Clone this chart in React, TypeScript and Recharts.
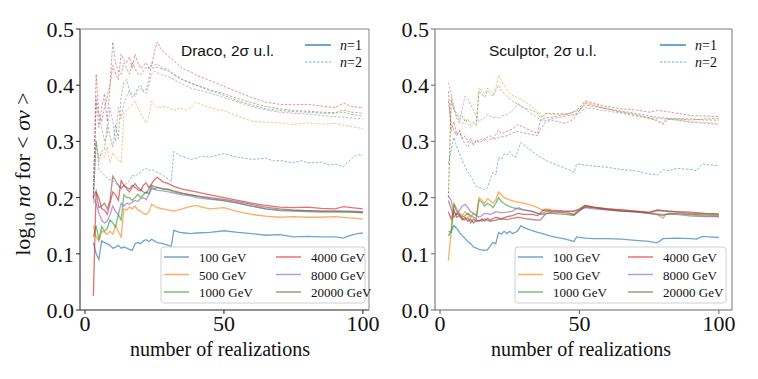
import React from 'react'
import { LineChart, Line, XAxis, YAxis } from 'recharts'

// masses, colours (matplotlib tab10)
const masses = ['100 GeV', '500 GeV', '1000 GeV', '4000 GeV', '8000 GeV', '20000 GeV']
const colors = ['#1f77b4', '#ff7f0e', '#2ca02c', '#d62728', '#9467bd', '#8c564b']
const yTicks = [0, 0.1, 0.2, 0.3, 0.4, 0.5]
const xTicks = [0, 50, 100]

type Pt = [number, number]

// ---- Draco, n = 1 ----
const draco1_100: Pt[] = [[3,0.12],[4,0.1],[5,0.09],[6,0.123],[7,0.12],[8,0.118],[9,0.115],[10,0.11],[11,0.112],[12,0.115],[13,0.11],[14,0.112],[15,0.11],[16,0.108],[17,0.106],[18,0.118],[19,0.12],[20,0.118],[21,0.123],[22,0.125],[23,0.122],[24,0.126],[26,0.12],[28,0.118],[30,0.115],[31,0.113],[32,0.142],[34,0.138],[36,0.137],[38,0.136],[40,0.137],[45,0.138],[50,0.141],[55,0.138],[60,0.136],[65,0.133],[70,0.134],[75,0.13],[80,0.131],[85,0.13],[90,0.13],[93,0.128],[95,0.132],[98,0.136],[100,0.137]]
const draco1_500: Pt[] = [[3,0.15],[4,0.13],[5,0.122],[6,0.14],[7,0.138],[8,0.135],[9,0.14],[10,0.135],[11,0.15],[12,0.14],[13,0.13],[14,0.18],[15,0.178],[16,0.183],[17,0.18],[18,0.185],[19,0.178],[20,0.176],[21,0.172],[22,0.17],[23,0.175],[24,0.188],[25,0.185],[26,0.182],[28,0.18],[30,0.178],[32,0.176],[35,0.18],[37,0.183],[40,0.186],[42,0.183],[45,0.18],[50,0.182],[55,0.175],[60,0.17],[65,0.167],[70,0.165],[75,0.166],[80,0.165],[85,0.165],[90,0.166],[95,0.164],[100,0.162]]
const draco1_1000: Pt[] = [[3,0.13],[4,0.15],[5,0.125],[6,0.148],[7,0.14],[8,0.145],[9,0.16],[10,0.155],[11,0.148],[12,0.17],[13,0.16],[14,0.205],[15,0.2],[16,0.2],[17,0.195],[18,0.2],[19,0.206],[20,0.2],[21,0.205],[22,0.21],[23,0.207],[24,0.22],[25,0.215],[26,0.218],[28,0.215],[30,0.214],[32,0.21],[35,0.207],[40,0.203],[45,0.198],[50,0.194],[55,0.19],[60,0.185],[65,0.18],[70,0.177],[75,0.176],[80,0.175],[85,0.174],[90,0.174],[95,0.174],[100,0.173]]
const draco1_4000: Pt[] = [[3,0.025],[4,0.21],[5,0.2],[6,0.18],[7,0.178],[8,0.17],[9,0.19],[10,0.21],[11,0.205],[12,0.195],[13,0.23],[14,0.222],[15,0.218],[16,0.215],[17,0.222],[18,0.218],[19,0.214],[20,0.212],[21,0.222],[22,0.226],[23,0.218],[24,0.225],[25,0.232],[26,0.236],[27,0.232],[28,0.228],[30,0.225],[32,0.22],[35,0.215],[40,0.21],[45,0.205],[50,0.2],[55,0.195],[60,0.19],[65,0.186],[70,0.183],[75,0.182],[80,0.183],[85,0.181],[90,0.18],[93,0.184],[96,0.182],[100,0.18]]
const draco1_8000: Pt[] = [[3,0.2],[4,0.19],[5,0.172],[6,0.16],[7,0.155],[8,0.158],[9,0.17],[10,0.185],[11,0.175],[12,0.17],[13,0.19],[14,0.185],[15,0.19],[16,0.188],[17,0.192],[18,0.195],[19,0.193],[20,0.198],[21,0.2],[22,0.196],[24,0.216],[26,0.213],[28,0.212],[30,0.21],[32,0.208],[35,0.205],[38,0.203],[40,0.2],[45,0.197],[50,0.195],[55,0.19],[60,0.185],[65,0.18],[70,0.178],[75,0.177],[80,0.177],[85,0.176],[90,0.176],[95,0.176],[100,0.175]]
const draco1_20000: Pt[] = [[3,0.2],[4,0.212],[5,0.182],[6,0.185],[7,0.19],[8,0.18],[9,0.195],[10,0.238],[11,0.23],[12,0.222],[13,0.216],[14,0.222],[15,0.215],[16,0.21],[17,0.218],[18,0.225],[19,0.218],[20,0.214],[21,0.21],[22,0.208],[23,0.215],[24,0.222],[25,0.22],[26,0.218],[28,0.216],[30,0.215],[32,0.212],[35,0.208],[40,0.203],[45,0.2],[50,0.197],[55,0.193],[60,0.188],[65,0.183],[70,0.18],[75,0.178],[80,0.177],[85,0.176],[90,0.176],[95,0.175],[100,0.174]]

// ---- Draco, n = 2 ----
const draco2_100: Pt[] = [[3,0.19],[4,0.3],[5,0.25],[6,0.245],[7,0.24],[8,0.235],[9,0.232],[10,0.23],[11,0.225],[12,0.22],[13,0.218],[14,0.222],[15,0.225],[16,0.23],[17,0.24],[18,0.238],[19,0.242],[20,0.245],[21,0.25],[22,0.252],[23,0.248],[24,0.25],[26,0.245],[28,0.24],[30,0.233],[31,0.228],[32,0.282],[34,0.275],[36,0.272],[38,0.268],[40,0.27],[42,0.274],[45,0.272],[48,0.276],[50,0.278],[53,0.274],[55,0.272],[60,0.268],[65,0.27],[68,0.265],[70,0.266],[75,0.262],[78,0.266],[80,0.262],[85,0.263],[88,0.258],[90,0.26],[93,0.255],[96,0.27],[98,0.276],[100,0.275]]
const draco2_500: Pt[] = [[3,0.2],[4,0.3],[5,0.262],[6,0.28],[7,0.272],[8,0.29],[9,0.262],[10,0.28],[11,0.272],[12,0.268],[13,0.262],[14,0.352],[15,0.355],[16,0.36],[17,0.365],[18,0.372],[19,0.36],[20,0.35],[21,0.34],[22,0.333],[23,0.345],[24,0.372],[25,0.365],[26,0.36],[28,0.362],[30,0.36],[32,0.355],[34,0.36],[36,0.356],[38,0.36],[40,0.37],[42,0.365],[45,0.36],[48,0.356],[50,0.355],[55,0.345],[60,0.336],[65,0.334],[70,0.333],[75,0.33],[80,0.333],[85,0.331],[90,0.332],[95,0.327],[100,0.323]]
const draco2_1000: Pt[] = [[3,0.2],[4,0.3],[5,0.27],[6,0.282],[7,0.285],[8,0.33],[9,0.31],[10,0.29],[11,0.33],[12,0.305],[13,0.38],[14,0.405],[15,0.41],[16,0.39],[17,0.378],[18,0.385],[19,0.395],[20,0.4],[21,0.39],[22,0.392],[23,0.41],[24,0.44],[25,0.436],[26,0.438],[28,0.43],[30,0.428],[32,0.42],[35,0.41],[38,0.405],[40,0.4],[45,0.39],[50,0.382],[55,0.372],[60,0.365],[65,0.358],[70,0.355],[75,0.353],[80,0.352],[85,0.35],[90,0.35],[93,0.352],[96,0.348],[100,0.345]]
const draco2_4000: Pt[] = [[3,0.2],[4,0.42],[5,0.35],[6,0.335],[7,0.36],[8,0.38],[9,0.4],[10,0.435],[11,0.42],[12,0.41],[13,0.455],[14,0.445],[15,0.44],[16,0.45],[17,0.43],[18,0.455],[19,0.44],[20,0.43],[21,0.435],[22,0.44],[23,0.43],[24,0.435],[25,0.46],[26,0.477],[27,0.468],[28,0.46],[30,0.452],[32,0.443],[35,0.43],[38,0.424],[40,0.418],[45,0.408],[50,0.398],[55,0.388],[60,0.378],[65,0.37],[70,0.366],[75,0.365],[80,0.366],[85,0.363],[90,0.36],[93,0.368],[96,0.362],[100,0.36]]
const draco2_8000: Pt[] = [[3,0.2],[4,0.38],[5,0.345],[6,0.325],[7,0.3],[8,0.312],[9,0.36],[10,0.335],[11,0.3],[12,0.36],[13,0.34],[14,0.368],[15,0.38],[16,0.39],[17,0.385],[18,0.38],[19,0.39],[20,0.395],[21,0.388],[22,0.385],[23,0.4],[24,0.42],[25,0.425],[26,0.422],[28,0.418],[30,0.415],[32,0.41],[35,0.402],[38,0.395],[40,0.392],[45,0.386],[50,0.378],[55,0.37],[60,0.362],[65,0.356],[70,0.352],[75,0.35],[80,0.349],[85,0.346],[90,0.344],[95,0.342],[100,0.34]]
const draco2_20000: Pt[] = [[3,0.2],[4,0.37],[5,0.325],[6,0.36],[7,0.385],[8,0.335],[9,0.4],[10,0.477],[11,0.44],[12,0.425],[13,0.42],[14,0.44],[15,0.43],[16,0.42],[17,0.44],[18,0.43],[19,0.42],[20,0.418],[21,0.425],[22,0.432],[24,0.43],[26,0.432],[28,0.428],[30,0.425],[32,0.418],[35,0.41],[38,0.403],[40,0.4],[45,0.392],[50,0.385],[55,0.376],[60,0.369],[65,0.362],[70,0.358],[75,0.355],[80,0.354],[85,0.352],[90,0.351],[93,0.356],[96,0.352],[100,0.35]]

// ---- Sculptor, n = 1 ----
const scl1_100: Pt[] = [[3,0.132],[4,0.14],[5,0.15],[6,0.145],[7,0.138],[8,0.132],[9,0.127],[10,0.122],[11,0.118],[12,0.112],[13,0.11],[14,0.108],[15,0.107],[16,0.106],[17,0.107],[18,0.114],[19,0.12],[20,0.118],[21,0.138],[22,0.135],[23,0.14],[24,0.136],[25,0.14],[26,0.136],[27,0.138],[28,0.142],[29,0.15],[30,0.147],[32,0.143],[35,0.138],[38,0.134],[40,0.131],[45,0.126],[48,0.122],[49,0.13],[52,0.128],[55,0.127],[60,0.127],[65,0.126],[70,0.124],[75,0.122],[77,0.12],[78,0.12],[80,0.127],[85,0.128],[90,0.127],[92,0.126],[94,0.131],[97,0.13],[100,0.129]]
const scl1_500: Pt[] = [[3,0.088],[4,0.14],[5,0.19],[6,0.18],[7,0.172],[8,0.168],[9,0.175],[10,0.17],[11,0.165],[12,0.172],[13,0.168],[14,0.2],[15,0.196],[16,0.19],[17,0.198],[18,0.195],[19,0.19],[20,0.196],[21,0.21],[22,0.205],[23,0.2],[25,0.196],[27,0.193],[30,0.19],[33,0.186],[35,0.182],[37,0.177],[38,0.18],[40,0.178],[45,0.175],[48,0.17],[50,0.178],[52,0.185],[55,0.183],[60,0.18],[65,0.178],[70,0.176],[75,0.173],[78,0.17],[80,0.163],[81,0.17],[85,0.172],[90,0.169],[95,0.167],[100,0.166]]
const scl1_1000: Pt[] = [[3,0.14],[4,0.138],[5,0.188],[6,0.175],[7,0.17],[8,0.165],[9,0.168],[10,0.172],[11,0.168],[12,0.165],[13,0.162],[14,0.196],[15,0.192],[16,0.185],[17,0.19],[18,0.187],[19,0.182],[20,0.19],[21,0.2],[22,0.193],[24,0.186],[26,0.182],[28,0.18],[30,0.178],[33,0.176],[36,0.17],[38,0.176],[40,0.175],[45,0.173],[48,0.17],[50,0.178],[52,0.186],[55,0.182],[60,0.18],[65,0.177],[70,0.175],[75,0.172],[80,0.168],[82,0.172],[85,0.171],[90,0.17],[95,0.169],[100,0.168]]
const scl1_4000: Pt[] = [[3,0.175],[4,0.162],[5,0.178],[6,0.165],[7,0.168],[8,0.16],[9,0.165],[10,0.158],[11,0.162],[12,0.155],[13,0.16],[14,0.158],[15,0.162],[16,0.158],[17,0.163],[18,0.16],[20,0.165],[22,0.162],[24,0.166],[26,0.168],[28,0.172],[30,0.17],[33,0.17],[35,0.168],[37,0.178],[40,0.177],[45,0.176],[48,0.175],[50,0.18],[52,0.186],[55,0.183],[60,0.18],[65,0.178],[70,0.176],[75,0.174],[78,0.178],[80,0.177],[85,0.175],[90,0.174],[95,0.172],[100,0.171]]
const scl1_8000: Pt[] = [[3,0.203],[4,0.195],[5,0.172],[6,0.17],[7,0.178],[8,0.185],[9,0.188],[10,0.182],[11,0.175],[12,0.172],[13,0.168],[14,0.165],[15,0.168],[16,0.172],[17,0.171],[18,0.17],[20,0.175],[22,0.173],[24,0.174],[26,0.176],[28,0.182],[30,0.178],[33,0.175],[35,0.172],[37,0.17],[40,0.174],[45,0.175],[50,0.178],[52,0.182],[55,0.18],[60,0.178],[65,0.176],[70,0.174],[75,0.172],[80,0.17],[85,0.17],[90,0.167],[95,0.166],[100,0.166]]
const scl1_20000: Pt[] = [[3,0.195],[4,0.18],[5,0.165],[6,0.172],[7,0.168],[8,0.162],[9,0.16],[10,0.165],[11,0.155],[12,0.162],[13,0.158],[14,0.16],[15,0.158],[16,0.162],[17,0.16],[18,0.158],[20,0.16],[22,0.162],[24,0.161],[26,0.163],[28,0.165],[30,0.163],[33,0.161],[36,0.16],[38,0.172],[40,0.172],[45,0.17],[48,0.168],[50,0.176],[52,0.183],[55,0.182],[60,0.178],[65,0.176],[70,0.175],[75,0.173],[78,0.177],[80,0.176],[85,0.174],[90,0.172],[95,0.171],[100,0.17]]

// ---- Sculptor, n = 2 ----
const scl2_100: Pt[] = [[3,0.26],[4,0.285],[5,0.307],[6,0.29],[7,0.278],[8,0.265],[9,0.255],[10,0.245],[11,0.238],[12,0.228],[13,0.22],[14,0.218],[15,0.216],[16,0.214],[17,0.218],[18,0.232],[19,0.245],[20,0.24],[21,0.272],[22,0.268],[23,0.278],[24,0.276],[25,0.282],[26,0.275],[27,0.272],[28,0.285],[29,0.298],[30,0.294],[32,0.286],[35,0.275],[38,0.266],[40,0.262],[45,0.252],[48,0.245],[49,0.26],[52,0.258],[55,0.256],[60,0.254],[65,0.25],[70,0.248],[75,0.242],[78,0.24],[80,0.25],[82,0.248],[85,0.252],[90,0.25],[92,0.248],[94,0.26],[97,0.258],[100,0.257]]
const scl2_500: Pt[] = [[3,0.2],[4,0.38],[5,0.36],[6,0.345],[7,0.335],[8,0.33],[9,0.34],[10,0.33],[11,0.325],[12,0.332],[13,0.328],[14,0.395],[15,0.39],[16,0.385],[17,0.395],[18,0.39],[19,0.385],[20,0.395],[21,0.418],[22,0.408],[23,0.4],[25,0.385],[27,0.38],[30,0.372],[33,0.362],[35,0.352],[37,0.342],[38,0.35],[40,0.348],[45,0.35],[48,0.345],[50,0.355],[52,0.37],[55,0.366],[60,0.358],[65,0.352],[70,0.347],[75,0.34],[78,0.338],[80,0.33],[81,0.34],[85,0.338],[90,0.335],[95,0.334],[100,0.332]]
const scl2_1000: Pt[] = [[3,0.2],[4,0.372],[5,0.355],[6,0.35],[7,0.34],[8,0.345],[9,0.335],[10,0.34],[11,0.33],[12,0.335],[13,0.33],[14,0.39],[15,0.385],[16,0.378],[17,0.39],[18,0.385],[19,0.38],[20,0.39],[21,0.4],[22,0.39],[24,0.38],[26,0.372],[28,0.366],[30,0.36],[33,0.355],[35,0.35],[36,0.342],[38,0.35],[40,0.35],[45,0.348],[50,0.356],[52,0.368],[55,0.364],[60,0.358],[65,0.352],[70,0.348],[75,0.342],[80,0.332],[82,0.34],[85,0.34],[90,0.338],[95,0.34],[100,0.341]]
const scl2_4000: Pt[] = [[3,0.39],[4,0.318],[5,0.335],[6,0.312],[7,0.32],[8,0.305],[9,0.31],[10,0.298],[11,0.306],[12,0.294],[13,0.302],[14,0.3],[15,0.305],[16,0.302],[17,0.308],[18,0.31],[19,0.305],[20,0.312],[21,0.32],[22,0.314],[24,0.318],[26,0.322],[28,0.33],[30,0.325],[33,0.318],[35,0.314],[36,0.338],[38,0.342],[40,0.343],[45,0.348],[48,0.352],[50,0.36],[52,0.372],[55,0.368],[60,0.362],[65,0.358],[70,0.356],[75,0.352],[78,0.355],[80,0.354],[85,0.35],[90,0.346],[95,0.345],[100,0.344]]
const scl2_8000: Pt[] = [[3,0.405],[4,0.385],[5,0.36],[6,0.34],[7,0.333],[8,0.36],[9,0.38],[10,0.375],[11,0.365],[12,0.355],[13,0.345],[14,0.335],[15,0.34],[16,0.342],[17,0.348],[18,0.345],[19,0.342],[20,0.345],[21,0.34],[22,0.345],[24,0.348],[26,0.355],[28,0.367],[30,0.36],[32,0.352],[35,0.342],[37,0.336],[40,0.34],[45,0.345],[50,0.35],[52,0.36],[55,0.358],[60,0.354],[65,0.35],[70,0.345],[75,0.342],[80,0.34],[85,0.338],[90,0.334],[95,0.332],[100,0.33]]
const scl2_20000: Pt[] = [[3,0.372],[4,0.33],[5,0.32],[6,0.31],[7,0.318],[8,0.305],[9,0.295],[10,0.29],[11,0.3],[12,0.295],[13,0.302],[14,0.298],[15,0.3],[16,0.305],[17,0.3],[18,0.304],[20,0.305],[22,0.308],[24,0.31],[26,0.315],[28,0.318],[30,0.315],[33,0.312],[35,0.31],[36,0.322],[38,0.335],[40,0.338],[45,0.332],[48,0.34],[50,0.355],[52,0.365],[55,0.362],[60,0.358],[65,0.354],[70,0.35],[75,0.345],[80,0.342],[85,0.34],[90,0.34],[95,0.338],[100,0.338]]

const dracoN1 = [draco1_100, draco1_500, draco1_1000, draco1_4000, draco1_8000, draco1_20000]
const dracoN2 = [draco2_100, draco2_500, draco2_1000, draco2_4000, draco2_8000, draco2_20000]
const sclN1 = [scl1_100, scl1_500, scl1_1000, scl1_4000, scl1_8000, scl1_20000]
const sclN2 = [scl2_100, scl2_500, scl2_1000, scl2_4000, scl2_8000, scl2_20000]

const serif = '"Liberation Serif", "Times New Roman", serif'
const sans = '"Liberation Sans", Arial, sans-serif'

const toRows = (pts: Pt[]) => pts.map(([x, y]) => ({ x, y }))

// tick renderers so the serif font is applied for sure
const XTick = (p: any) => (
  <text x={p.x} y={p.y} dy="0.71em" textAnchor="middle" fontFamily={serif} fontSize={22} fill="#111">
    {p.payload.value}
  </text>
)
const YTick = (p: any) => (
  <text x={p.x} y={p.y} dy="0.36em" textAnchor="end" fontFamily={serif} fontSize={22} fill="#111">
    {Number(p.payload.value).toFixed(1)}
  </text>
)

function Panel({ n1, n2, width, margin, xDomain, axisColor }: any) {
  return (
    <LineChart width={width} height={379} margin={margin}>
      <XAxis type="number" dataKey="x" domain={xDomain} ticks={xTicks} allowDataOverflow
        height={30} tickSize={4} tickMargin={1} stroke={axisColor} tick={XTick} />
      <YAxis type="number" domain={[0, 0.5]} ticks={yTicks} allowDataOverflow width={50}
        tickSize={4} tickMargin={2} stroke={axisColor} tick={YTick} />
      {masses.map((m, i) => [
        <Line key={'a' + i} data={toRows(n1[i])} dataKey="y" name={m + ' n=1'} stroke={colors[i]}
          strokeOpacity={0.65} strokeWidth={1.3} dot={false} activeDot={false} isAnimationActive={false} />,
        <Line key={'b' + i} data={toRows(n2[i])} dataKey="y" name={m + ' n=2'} stroke={colors[i]}
          strokeOpacity={0.5} strokeWidth={1} strokeDasharray="2.5 1.5" dot={false} activeDot={false} isAnimationActive={false} />,
      ])}
    </LineChart>
  )
}

function NLegend({ x, y }: { x: number; y: number }) {
  return (
    <g>
      <line x1={x} x2={x + 26} y1={y} y2={y} stroke={colors[0]} strokeWidth={1.3} />
      <line x1={x} x2={x + 26} y1={y + 17} y2={y + 17} stroke={colors[0]} strokeOpacity={0.6} strokeWidth={1} strokeDasharray="2.5 1.5" />
      <text x={x + 35} y={y + 5} fontFamily={serif} fontSize={14} fill="#111"><tspan fontStyle="italic">n</tspan>=1</text>
      <text x={x + 35} y={y + 22} fontFamily={serif} fontSize={14} fill="#111"><tspan fontStyle="italic">n</tspan>=2</text>
    </g>
  )
}

function MassLegend({ x, y, w, c2 }: { x: number; y: number; w: number; c2: number }) {
  return (
    <g>
      <rect x={x} y={y} width={w} height={56} rx={3} fill="#fff" fillOpacity={0.8} stroke="#d0d0d0" />
      {masses.map((m, i) => {
        const col = i < 3 ? 0 : 1
        const row = i % 3
        const lx = x + 3 + col * c2
        const ly = y + 10 + row * 17.5
        return (
          <g key={m}>
            <line x1={lx} x2={lx + 25} y1={ly} y2={ly} stroke={colors[i]} strokeOpacity={0.65} strokeWidth={1.5} />
            <text x={lx + 35} y={ly + 5} fontFamily={serif} fontSize={13} fill="#111">{m}</text>
          </g>
        )
      })}
    </g>
  )
}

export default function App() {
  return (
    <div style={{ position: 'absolute', left: 0, top: 0, width: 758, height: 379, background: '#fff' }}>
      <div style={{ position: 'absolute', left: 0, top: 0 }}>
        <Panel n1={dracoN1} n2={dracoN2} width={400} xDomain={[-1.8, 102.2]} axisColor="#222"
          margin={{ top: 29, right: 31, bottom: 39, left: 30 }} />
      </div>
      <div style={{ position: 'absolute', left: 380, top: 0 }}>
        <Panel n1={sclN1} n2={sclN2} width={378} xDomain={[-1.8, 104.7]} axisColor="#666"
          margin={{ top: 29, right: 26, bottom: 39, left: 5 }} />
      </div>
      <svg width={758} height={379} style={{ position: 'absolute', left: 0, top: 0, pointerEvents: 'none' }}>
        {/* frames (top/right spines) */}
        <polyline points="80,29 369,29 369,310" fill="none" stroke="#888" />
        <polyline points="435,29 732,29 732,310" fill="none" stroke="#777" />

        <text x={181} y={56} fontFamily={sans} fontSize={15.5} fill="#111">Draco, 2σ u.l.</text>
        <text x={489} y={56} fontFamily={sans} fontSize={15.5} fill="#111">Sculptor, 2σ u.l.</text>

        <NLegend x={305} y={45} />
        <NLegend x={660} y={45} />

        <MassLegend x={161} y={247} w={204} c2={112} />
        <MassLegend x={515} y={247} w={211} c2={110} />

        <text x={220} y={356} textAnchor="middle" fontFamily={serif} fontSize={20} fill="#111">number of realizations</text>
        <text x={581} y={356} textAnchor="middle" fontFamily={serif} fontSize={20} fill="#111">number of realizations</text>

        <text transform="translate(30,174) rotate(-90)" textAnchor="middle" fontFamily={serif} fontSize={22} fill="#111">
          log<tspan fontSize={15} dy={5}>10</tspan><tspan dy={-5}> </tspan><tspan fontStyle="italic">nσ</tspan> for <tspan> &lt; </tspan><tspan fontStyle="italic">σv</tspan> &gt;
        </text>
      </svg>
    </div>
  )
}
